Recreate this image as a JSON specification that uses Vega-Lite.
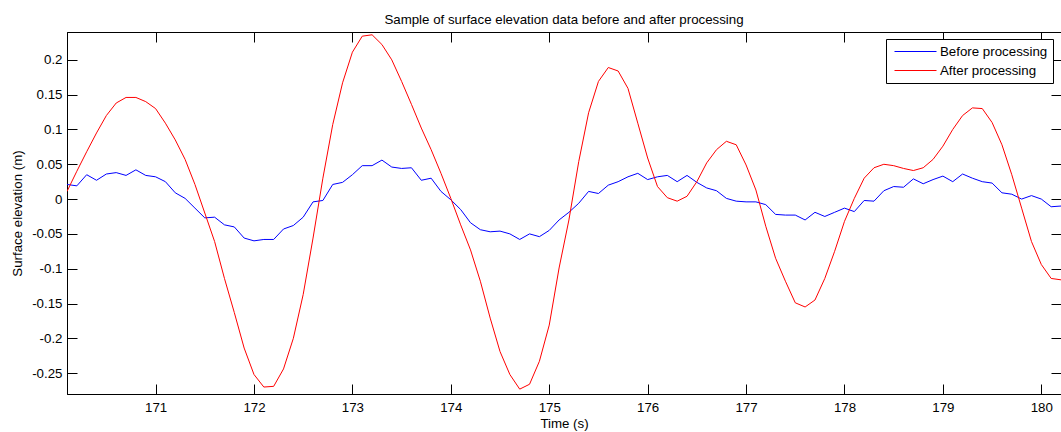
{
  "$schema": "https://vega.github.io/schema/vega-lite/v6.json",
  "width": 994,
  "height": 362,
  "autosize": {"type": "none"},
  "padding": {"left": 67, "top": 32, "right": 0, "bottom": 38},
  "background": "white",
  "title": {"text": "Sample of surface elevation data before and after processing", "font": "Liberation Sans", "fontSize": 13.3, "fontWeight": "normal", "color": "black", "anchor": "middle", "baseline": "alphabetic", "offset": -6},
  "config": {
    "view": {"stroke": "black", "strokeWidth": 1},
    "axis": {"domainColor": "black", "tickColor": "black", "labelColor": "black", "titleColor": "black", "labelFont": "Liberation Sans", "titleFont": "Liberation Sans", "labelFontSize": 13.3, "titleFontSize": 13.3, "titleFontWeight": "normal", "grid": false, "tickSize": -10, "tickWidth": 1, "domainWidth": 1}
  },
  "data": {"values": [
    {"t":170.1,"Before processing":0.021,"After processing":0.011},
    {"t":170.2,"Before processing":0.019,"After processing":0.040},
    {"t":170.3,"Before processing":0.035,"After processing":0.068},
    {"t":170.4,"Before processing":0.027,"After processing":0.095},
    {"t":170.5,"Before processing":0.036,"After processing":0.120},
    {"t":170.6,"Before processing":0.038,"After processing":0.138},
    {"t":170.7,"Before processing":0.034,"After processing":0.146},
    {"t":170.8,"Before processing":0.042,"After processing":0.146},
    {"t":170.9,"Before processing":0.034,"After processing":0.140},
    {"t":171.0,"Before processing":0.032,"After processing":0.130},
    {"t":171.1,"Before processing":0.025,"After processing":0.109},
    {"t":171.2,"Before processing":0.009,"After processing":0.085},
    {"t":171.3,"Before processing":0.001,"After processing":0.057},
    {"t":171.4,"Before processing":-0.013,"After processing":0.021},
    {"t":171.5,"Before processing":-0.027,"After processing":-0.020},
    {"t":171.6,"Before processing":-0.026,"After processing":-0.061},
    {"t":171.7,"Before processing":-0.037,"After processing":-0.114},
    {"t":171.8,"Before processing":-0.040,"After processing":-0.163},
    {"t":171.9,"Before processing":-0.056,"After processing":-0.214},
    {"t":172.0,"Before processing":-0.060,"After processing":-0.252},
    {"t":172.1,"Before processing":-0.058,"After processing":-0.270},
    {"t":172.2,"Before processing":-0.058,"After processing":-0.269},
    {"t":172.3,"Before processing":-0.043,"After processing":-0.244},
    {"t":172.4,"Before processing":-0.038,"After processing":-0.200},
    {"t":172.5,"Before processing":-0.026,"After processing":-0.137},
    {"t":172.6,"Before processing":-0.004,"After processing":-0.056},
    {"t":172.7,"Before processing":-0.002,"After processing":0.030},
    {"t":172.8,"Before processing":0.021,"After processing":0.107},
    {"t":172.9,"Before processing":0.024,"After processing":0.167},
    {"t":173.0,"Before processing":0.035,"After processing":0.211},
    {"t":173.1,"Before processing":0.048,"After processing":0.234},
    {"t":173.2,"Before processing":0.048,"After processing":0.236},
    {"t":173.3,"Before processing":0.056,"After processing":0.222},
    {"t":173.4,"Before processing":0.046,"After processing":0.200},
    {"t":173.5,"Before processing":0.044,"After processing":0.169},
    {"t":173.6,"Before processing":0.045,"After processing":0.136},
    {"t":173.7,"Before processing":0.027,"After processing":0.102},
    {"t":173.8,"Before processing":0.030,"After processing":0.071},
    {"t":173.9,"Before processing":0.011,"After processing":0.037},
    {"t":174.0,"Before processing":-0.001,"After processing":0.001},
    {"t":174.1,"Before processing":-0.015,"After processing":-0.037},
    {"t":174.2,"Before processing":-0.034,"After processing":-0.073},
    {"t":174.3,"Before processing":-0.044,"After processing":-0.118},
    {"t":174.4,"Before processing":-0.047,"After processing":-0.171},
    {"t":174.5,"Before processing":-0.046,"After processing":-0.219},
    {"t":174.6,"Before processing":-0.050,"After processing":-0.252},
    {"t":174.7,"Before processing":-0.058,"After processing":-0.273},
    {"t":174.8,"Before processing":-0.050,"After processing":-0.266},
    {"t":174.9,"Before processing":-0.054,"After processing":-0.233},
    {"t":175.0,"Before processing":-0.045,"After processing":-0.181},
    {"t":175.1,"Before processing":-0.030,"After processing":-0.099},
    {"t":175.2,"Before processing":-0.019,"After processing":-0.030},
    {"t":175.3,"Before processing":-0.006,"After processing":0.054},
    {"t":175.4,"Before processing":0.011,"After processing":0.124},
    {"t":175.5,"Before processing":0.008,"After processing":0.169},
    {"t":175.6,"Before processing":0.020,"After processing":0.189},
    {"t":175.7,"Before processing":0.025,"After processing":0.184},
    {"t":175.8,"Before processing":0.032,"After processing":0.159},
    {"t":175.9,"Before processing":0.037,"After processing":0.109},
    {"t":176.0,"Before processing":0.028,"After processing":0.059},
    {"t":176.1,"Before processing":0.032,"After processing":0.018},
    {"t":176.2,"Before processing":0.034,"After processing":0.002},
    {"t":176.3,"Before processing":0.025,"After processing":-0.003},
    {"t":176.4,"Before processing":0.034,"After processing":0.004},
    {"t":176.5,"Before processing":0.024,"After processing":0.025},
    {"t":176.6,"Before processing":0.016,"After processing":0.052},
    {"t":176.7,"Before processing":0.012,"After processing":0.071},
    {"t":176.8,"Before processing":0.001,"After processing":0.083},
    {"t":176.9,"Before processing":-0.003,"After processing":0.078},
    {"t":177.0,"Before processing":-0.004,"After processing":0.049},
    {"t":177.1,"Before processing":-0.004,"After processing":0.013},
    {"t":177.2,"Before processing":-0.008,"After processing":-0.039},
    {"t":177.3,"Before processing":-0.022,"After processing":-0.085},
    {"t":177.4,"Before processing":-0.023,"After processing":-0.118},
    {"t":177.5,"Before processing":-0.023,"After processing":-0.149},
    {"t":177.6,"Before processing":-0.030,"After processing":-0.155},
    {"t":177.7,"Before processing":-0.019,"After processing":-0.145},
    {"t":177.8,"Before processing":-0.025,"After processing":-0.114},
    {"t":177.9,"Before processing":-0.019,"After processing":-0.075},
    {"t":178.0,"Before processing":-0.013,"After processing":-0.032},
    {"t":178.1,"Before processing":-0.018,"After processing":0.001},
    {"t":178.2,"Before processing":-0.002,"After processing":0.030},
    {"t":178.3,"Before processing":-0.003,"After processing":0.045},
    {"t":178.4,"Before processing":0.012,"After processing":0.050},
    {"t":178.5,"Before processing":0.018,"After processing":0.048},
    {"t":178.6,"Before processing":0.017,"After processing":0.044},
    {"t":178.7,"Before processing":0.029,"After processing":0.041},
    {"t":178.8,"Before processing":0.022,"After processing":0.045},
    {"t":178.9,"Before processing":0.028,"After processing":0.057},
    {"t":179.0,"Before processing":0.033,"After processing":0.076},
    {"t":179.1,"Before processing":0.025,"After processing":0.100},
    {"t":179.2,"Before processing":0.036,"After processing":0.120},
    {"t":179.3,"Before processing":0.030,"After processing":0.131},
    {"t":179.4,"Before processing":0.025,"After processing":0.130},
    {"t":179.5,"Before processing":0.023,"After processing":0.110},
    {"t":179.6,"Before processing":0.009,"After processing":0.078},
    {"t":179.7,"Before processing":0.007,"After processing":0.035},
    {"t":179.8,"Before processing":0.000,"After processing":-0.013},
    {"t":179.9,"Before processing":0.005,"After processing":-0.061},
    {"t":180.0,"Before processing":0.000,"After processing":-0.094},
    {"t":180.1,"Before processing":-0.011,"After processing":-0.114},
    {"t":180.2,"Before processing":-0.010,"After processing":-0.116}
  ]},
  "transform": [{"fold": ["Before processing", "After processing"], "as": ["series", "v"]}],
  "layer": [
    {
      "transform": [{"filter": "datum.series == 'Before processing'"}],
      "mark": {"type": "line", "strokeWidth": 1, "clip": true},
      "encoding": {
        "x": {"field": "t", "type": "quantitative", "scale": {"domain": [170.1, 180.2], "nice": false, "zero": false},
              "axis": {"orient": "bottom", "title": "Time (s)", "values": [171,172,173,174,175,176,177,178,179,180], "format": "d", "labelPadding": 16, "titleBaseline": "alphabetic", "titleY": 33}},
        "y": {"field": "v", "type": "quantitative", "scale": {"domain": [-0.28, 0.24], "nice": false, "zero": false},
              "axis": {"orient": "left", "title": "Surface elevation (m)", "values": [-0.25,-0.2,-0.15,-0.1,-0.05,0,0.05,0.1,0.15,0.2], "labelExpr": "toString(datum.value)", "labelPadding": 15, "titleBaseline": "alphabetic", "titleX": -46}},
        "color": {"field": "series", "type": "nominal", "scale": {"domain": ["Before processing", "After processing"], "range": ["#0000ff", "#ff0000"]},
                  "legend": {"orient": "none", "legendX": 819, "legendY": 7, "title": null, "symbolType": "stroke", "symbolSize": 1764, "symbolStrokeWidth": 1, "symbolOffset": 3, "clipHeight": 15, "labelFont": "Liberation Sans", "labelFontSize": 13.3, "labelColor": "black", "strokeColor": "black", "fillColor": "white", "padding": 5, "rowPadding": 4, "labelOffset": 3}}
      }
    },
    {
      "transform": [{"filter": "datum.series == 'After processing'"}],
      "mark": {"type": "line", "strokeWidth": 1, "clip": true},
      "encoding": {
        "x": {"field": "t", "type": "quantitative", "scale": {"domain": [170.1, 180.2], "nice": false, "zero": false},
              "axis": {"orient": "top", "title": null, "labels": false, "values": [171,172,173,174,175,176,177,178,179,180]}},
        "y": {"field": "v", "type": "quantitative", "scale": {"domain": [-0.28, 0.24], "nice": false, "zero": false},
              "axis": {"orient": "right", "title": null, "labels": false, "values": [-0.25,-0.2,-0.15,-0.1,-0.05,0,0.05,0.1,0.15,0.2]}},
        "color": {"field": "series", "type": "nominal"}
      }
    }
  ],
  "resolve": {"axis": {"x": "independent", "y": "independent"}}
}
